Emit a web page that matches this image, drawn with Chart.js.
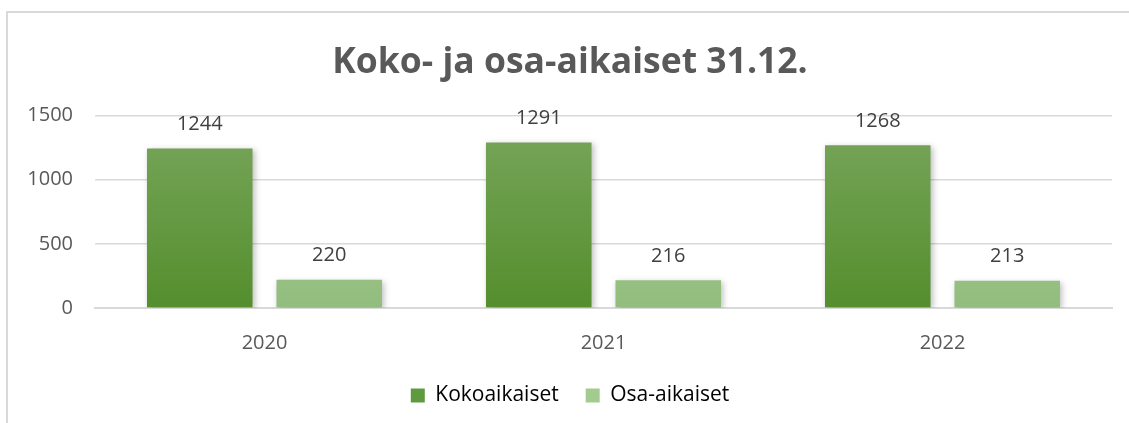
<!DOCTYPE html>
<html>
<head>
<meta charset="utf-8">
<script src="https://cdn.jsdelivr.net/npm/chart.js@4.4.1/dist/chart.umd.min.js"></script>
<style>
  html, body { margin: 0; padding: 0; background: #fff; }
  #wrap { position: relative; width: 1129px; height: 423px; }
  #frame {
    position: absolute; left: 6px; top: 11px; width: 1140px; height: 430px;
    border-left: 2px solid #d9d9d9; border-top: 2px solid #d9d9d9;
    pointer-events: none;
  }
  canvas { position: absolute; left: 0; top: 0; }
</style>
</head>
<body>
<div id="wrap">
  <canvas id="chart" width="1129" height="423"></canvas>
  <div id="frame"></div>
</div>
<script>
const years = ['2020', '2021', '2022'];
const kokoaikaiset = [1244, 1291, 1268];
const osaAikaiset = [220, 216, 213];
const yTicks = [0, 500, 1000, 1500];

const font = "'Open Sans', 'Liberation Sans', sans-serif";

function gradient(ctx, top, bottom) {
  const area = ctx.chart.chartArea;
  if (!area) return bottom;
  const g = ctx.chart.ctx.createLinearGradient(0, area.top, 0, area.bottom);
  g.addColorStop(0, top);
  g.addColorStop(1, bottom);
  return g;
}

// draws the value above every bar
const valueLabels = {
  id: 'valueLabels',
  afterDatasetsDraw(chart) {
    const c = chart.ctx;
    c.save();
    c.font = '20px ' + font;
    c.fillStyle = '#404040';
    c.textAlign = 'center';
    c.textBaseline = 'middle';
    chart.data.datasets.forEach((ds, i) => {
      chart.getDatasetMeta(i).data.forEach((bar, j) => {
        c.fillText(ds.data[j], bar.x, bar.y - 24);
      });
    });
    c.restore();
  }
};

const barShadow = {
  id: 'barShadow',
  beforeDatasetsDraw(chart) {
    const c = chart.ctx;
    c.save();
    c.shadowColor = 'rgba(0,0,0,0.25)';
    c.shadowBlur = 6;
    c.shadowOffsetX = 2;
    c.shadowOffsetY = 2;
  },
  afterDatasetsDraw(chart) {
    chart.ctx.restore();
  }
};

new Chart(document.getElementById('chart'), {
  type: 'bar',
  data: {
    labels: years,
    datasets: [
      {
        label: 'Kokoaikaiset',
        data: kokoaikaiset,
        backgroundColor: ctx => gradient(ctx, '#79a65c', '#548e2d'),
        barPercentage: 0.815,
        categoryPercentage: 0.764
      },
      {
        label: 'Osa-aikaiset',
        data: osaAikaiset,
        backgroundColor: ctx => gradient(ctx, '#acd19a', '#92bd7e'),
        barPercentage: 0.815,
        categoryPercentage: 0.764
      }
    ]
  },
  options: {
    responsive: false,
    animation: false,
    layout: { padding: { left: 28, right: 17, top: 42, bottom: 7 } },
    scales: {
      y: {
        min: 0,
        max: 1500,
        afterBuildTicks: axis => { axis.ticks = yTicks.map(v => ({ value: v })); },
        afterFit: axis => { axis.width = 67; },
        border: { display: false },
        grid: { color: '#d9d9d9', lineWidth: 1.5, drawTicks: false },
        ticks: {
          color: '#595959',
          font: { family: font, size: 20 },
          padding: 22,
          callback: v => String(v)
        }
      },
      x: {
        afterFit: axis => { axis.height = 50; },
        border: { color: '#d9d9d9', width: 2 },
        grid: { display: false },
        ticks: { color: '#595959', font: { family: font, size: 20 }, padding: 15 }
      }
    },
    plugins: {
      title: {
        display: true,
        text: 'Koko- ja osa-aikaiset 31.12.',
        color: '#595959',
        font: { family: font, size: 35.5, weight: 'bold' },
        padding: { top: 0, bottom: 31 }
      },
      legend: {
        position: 'bottom',
        labels: {
          color: '#595959',
          font: { family: font, size: 21 },
          boxWidth: 14,
          boxHeight: 14,
          padding: 27,
          generateLabels: chart => chart.data.datasets.map((ds, i) => ({
            text: ds.label,
            fillStyle: i === 0 ? '#609a3e' : '#a3cb90',
            strokeStyle: 'transparent',
            lineWidth: 0,
            datasetIndex: i
          }))
        }
      },
      tooltip: { enabled: false }
    }
  },
  plugins: [barShadow, valueLabels]
});
</script>
</body>
</html>
